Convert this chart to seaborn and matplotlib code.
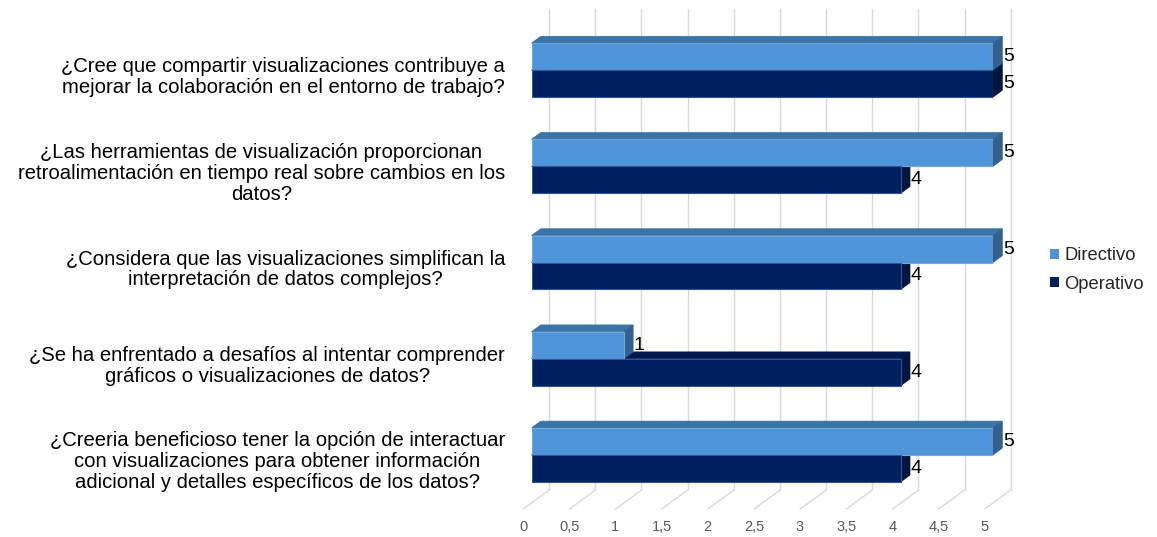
import numpy as np
import pandas as pd
import matplotlib
matplotlib.use("Agg")
import matplotlib.pyplot as plt
import seaborn as sns
from matplotlib.patches import Polygon, Rectangle
from matplotlib.transforms import IdentityTransform

# ---------------- data ----------------
questions = [
    "¿Cree que compartir visualizaciones contribuye a\nmejorar la colaboración en el entorno de trabajo?",
    "¿Las herramientas de visualización proporcionan\nretroalimentación en tiempo real sobre cambios en los\ndatos?",
    "¿Considera que las visualizaciones simplifican la\ninterpretación de datos complejos?",
    "¿Se ha enfrentado a desafíos al intentar comprender\ngráficos o visualizaciones de datos?",
    "¿Creeria beneficioso tener la opción de interactuar\ncon visualizaciones para obtener información\nadicional y detalles específicos de los datos?",
]
series_names = ["Directivo", "Operativo"]
directivo = [5, 5, 5, 1, 5]
operativo = [5, 4, 4, 4, 4]
x_ticks = [0, 0.5, 1, 1.5, 2, 2.5, 3, 3.5, 4, 4.5, 5]
x_tick_labels = ["0", "0,5", "1", "1,5", "2", "2,5", "3", "3,5", "4", "4,5", "5"]

df = pd.DataFrame({
    "question": questions * 2,
    "serie": [series_names[0]] * len(questions) + [series_names[1]] * len(questions),
    "valor": directivo + operativo,
})

# ---------------- style ----------------
sns.set_theme(style="white")
plt.rcParams["font.family"] = ["Liberation Sans", "DejaVu Sans"]

front_cols = {"Directivo": "#4f94d8", "Operativo": "#001f5f"}
top_cols = {"Directivo": "#3b74a8", "Operativo": "#021a4d"}
side_cols = {"Directivo": "#33608f", "Operativo": "#03163f"}
edge_cols = {"Directivo": "#6fa8e0", "Operativo": "#2f5597"}

W, H, DPI = 1157, 537, 100
fig = plt.figure(figsize=(W / DPI, H / DPI), dpi=DPI)
# front plane of the bars (pixel geometry)
left_px, right_px, top_px, bot_px = 531.5, 993.0, 22.0, 503.0
ax = fig.add_axes([left_px / W, 1 - bot_px / H, (right_px - left_px) / W, (bot_px - top_px) / H])
ax.set_facecolor("none")
ax.set_zorder(2)

sns.barplot(data=df, y="question", x="valor", hue="serie", orient="h",
            palette=front_cols, width=0.561, ax=ax, legend=False,
            saturation=1, zorder=3, linewidth=0.8, edgecolor="#7fb2e5")

ax.set_xlim(0, 5)
ax.set_ylim(4.5, -0.5)
for s in ax.spines.values():
    s.set_visible(False)
ax.set_xlabel("")
ax.set_ylabel("")
ax.grid(False)

fig.canvas.draw()

# depth vector in display pixels
DX, DY = 9.3, 6.8

# ---- back wall grid + floor lines ----
grid_col = "#d9d9d9"
for v in x_ticks:
    fx, fy = ax.transData.transform((v, 4.5))
    _, ty = ax.transData.transform((v, -0.5))
    wall_x = fx + 1.9 * DX
    wall_by = fy + 1.9 * DY
    wall_ty = ty + 1.9 * DY
    floor_x = fx - 0.9 * DX
    floor_y = fy - 0.9 * DY
    fig.add_artist(plt.Line2D([wall_x, wall_x], [wall_by, wall_ty], color=grid_col,
                              lw=1.0, transform=IdentityTransform(), zorder=0))
    fig.add_artist(plt.Line2D([floor_x, wall_x], [floor_y, wall_by], color=grid_col,
                              lw=1.0, transform=IdentityTransform(), zorder=0))

# ---- 3D faces derived from the seaborn bars ----
bars = [p for p in ax.patches if isinstance(p, Rectangle)]
n = len(questions)
for i, p in enumerate(bars[: 2 * n]):
    name = series_names[0] if i < n else series_names[1]
    x0, y0 = p.get_x(), p.get_y()
    w, h = p.get_width(), p.get_height()
    (ax0, ay_bot) = ax.transData.transform((x0, y0 + h))
    (ax1, ay_top) = ax.transData.transform((x0 + w, y0))
    z = 1 if name == "Operativo" else 1.5
    top = Polygon([(ax0, ay_top), (ax1, ay_top), (ax1 + DX, ay_top + DY), (ax0 + DX, ay_top + DY)],
                  closed=True, facecolor=top_cols[name], edgecolor=top_cols[name], lw=0.5,
                  transform=IdentityTransform(), zorder=z)
    side = Polygon([(ax1, ay_bot), (ax1, ay_top), (ax1 + DX, ay_top + DY), (ax1 + DX, ay_bot + DY)],
                   closed=True, facecolor=side_cols[name], edgecolor=side_cols[name], lw=0.5,
                   transform=IdentityTransform(), zorder=z)
    fig.add_artist(top)
    fig.add_artist(side)
    p.set_edgecolor(edge_cols[name])
    val = directivo[i] if i < n else operativo[i - n]
    fig.text(ax1 + DX + 0.5, (ay_bot + ay_top) / 2, f"{val:g}", transform=IdentityTransform(),
             ha="left", va="center", fontsize=14, color="black", zorder=5)

# ---- x tick labels at floor front ----
ax.set_xticks(x_ticks)
ax.set_xticklabels([])
ax.tick_params(axis="x", length=0)
for v, lab in zip(x_ticks, x_tick_labels):
    fx, fy = ax.transData.transform((v, 4.5))
    fig.text(fx - 0.9 * DX, H - 527, lab, transform=IdentityTransform(),
             ha="center", va="center", fontsize=10.5, color="#595959")

# ---- category labels ----
ax.set_yticks(range(n))
ax.set_yticklabels([])
ax.tick_params(axis="y", length=0)
for j, q in enumerate(questions):
    _, cy = ax.transData.transform((0, j))
    fig.text(505, cy - 7, q, transform=IdentityTransform(), ha="right", va="center",
             multialignment="center", fontsize=14.6, color="black", linespacing=1.13)

# ---- legend ----
handles = [Rectangle((0, 0), 1, 1, facecolor=front_cols[s], edgecolor="none") for s in series_names]
fig.legend(handles, series_names, loc="center left", bbox_to_anchor=(1033 / W, 1 - 270 / H),
           frameon=False, fontsize=13.2, handlelength=0.5, handleheight=0.5,
           handletextpad=0.3, labelspacing=0.62)

fig.savefig("out.png", dpi=DPI)
